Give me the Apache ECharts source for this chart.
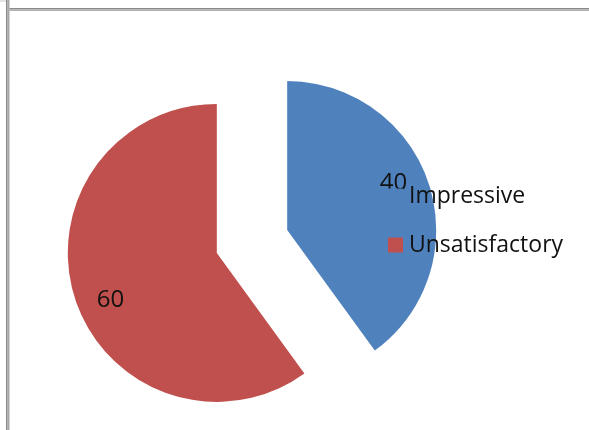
<!DOCTYPE html>
<html><head><meta charset="utf-8">
<script src="https://cdn.jsdelivr.net/npm/echarts@6/dist/echarts.min.js"></script>
<style>html,body{margin:0;padding:0;background:#fff}#c{width:589px;height:430px}</style>
</head><body><div id="c"></div>
<script>
var categories = ['Impressive', 'Unsatisfactory'];
var values = [40, 60];
var colors = ['#4F81BD', '#C0504D'];

var chart = echarts.init(document.getElementById('c'), null, {renderer: 'canvas'});
var FONT = 'Open Sans';
var center = [252, 241.5];
var R = 149;
var offset = 37;

function mkData(showLabel) {
  return categories.map(function (n, i) {
    return {name: n, value: values[i], selected: true,
      itemStyle: {color: showLabel ? 'rgba(0,0,0,0)' : colors[i]}};
  });
}

chart.setOption({
  animation: false,
  backgroundColor: '#fff',
  legend: {
    orient: 'vertical', left: 388, top: 184, padding: 0,
    data: categories,
    icon: 'rect', itemWidth: 15, itemHeight: 15, itemGap: 25,
    selectedMode: false,
    textStyle: {fontFamily: FONT, fontSize: 23, lineHeight: 24, color: '#111', padding: [0, 0, 0, 1]}
  },
  graphic: [
    {type: 'rect', shape: {x: 0, y: 0.5, width: 7, height: 1}, style: {fill: '#c8c8c8'}, silent: true},
    {type: 'rect', shape: {x: 6, y: 0, width: 1.5, height: 430}, style: {fill: '#8a8a8a'}, silent: true},
    {type: 'rect', shape: {x: 7.5, y: 0, width: 2, height: 430}, style: {fill: '#a8a8a8'}, silent: true},
    {type: 'rect', shape: {x: 9.5, y: 8, width: 580, height: 1.5}, style: {fill: '#8a8a8a'}, silent: true},
    {type: 'rect', shape: {x: 9.5, y: 9.5, width: 580, height: 1.5}, style: {fill: '#b0b0b0'}, silent: true}
  ],
  series: [
    {
      type: 'pie', center: center, radius: [0, R], startAngle: 90, clockwise: true,
      selectedMode: 'multiple', selectedOffset: offset,
      label: {show: false}, labelLine: {show: false},
      emphasis: {disabled: true}, select: {itemStyle: {}},
      data: mkData(false), z: 1
    },
    {
      type: 'pie', center: center, radius: [R * 0.52, R], startAngle: 94.5, clockwise: true,
      selectedMode: 'multiple', selectedOffset: offset, silent: true,
      label: {show: true, position: 'inside', formatter: '{c}', fontFamily: FONT, fontSize: 24, color: '#111'},
      labelLine: {show: false},
      emphasis: {disabled: true}, select: {itemStyle: {color: 'rgba(0,0,0,0)'}},
      data: mkData(true), z: 1
    }
  ]
});
</script></body></html>
